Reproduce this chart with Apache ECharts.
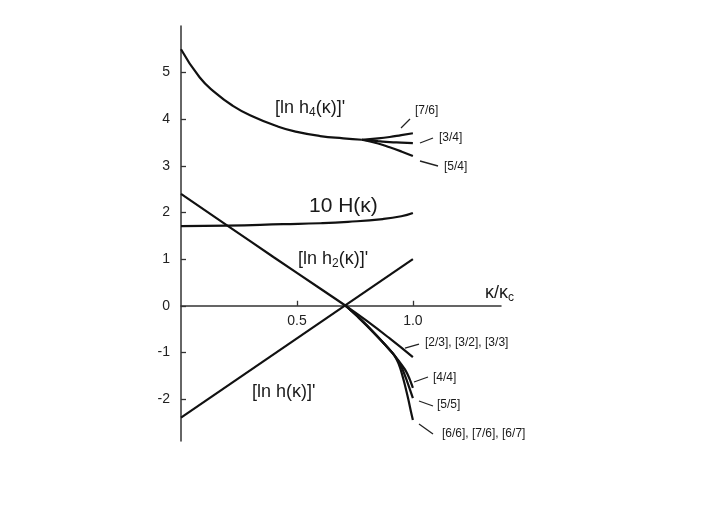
<!DOCTYPE html>
<html>
<head>
<meta charset="utf-8">
<script src="https://cdn.jsdelivr.net/npm/echarts@6/dist/echarts.min.js"></script>
<style>
  html, body { margin: 0; padding: 0; background: #fff; }
  #main { width: 706px; height: 528px; }
</style>
</head>
<body>
<div id="main"></div>
<script>
// values, [κ/κc, value]
const lnH = [[0, -2.4], [1.0, 1.0]];
const lnH2 = [[0, 2.4], [0.2, 1.72], [0.4, 1.04], [0.6, 0.37], [0.71, 0], [0.8, -0.32], [0.9, -0.7], [1.0, -1.1]];
const tenH = [[0, 1.71], [0.2, 1.72], [0.44, 1.75], [0.6, 1.77], [0.72, 1.8], [0.87, 1.86], [0.95, 1.92], [1.0, 1.99]];
const lnH4 = [[0, 5.5], [0.08, 4.9], [0.15, 4.56], [0.22, 4.3], [0.3, 4.08], [0.42, 3.84], [0.5, 3.73], [0.6, 3.64], [0.7, 3.59], [0.78, 3.56]];
const h4b76 = [[0.78, 3.56], [0.85, 3.59], [0.9, 3.62], [0.95, 3.66], [1.0, 3.7]];
const h4b34 = [[0.78, 3.56], [0.85, 3.53], [0.9, 3.51], [0.95, 3.5], [1.0, 3.49]];
const h4b54 = [[0.78, 3.56], [0.85, 3.48], [0.9, 3.4], [0.95, 3.31], [1.0, 3.21]];
// lower Padé curves share the stem from the crossing point
const bStem = [[0.71, 0], [0.77, -0.27], [0.84, -0.62], [0.91, -1.0]];
const b44 = [[0.94, -1.19], [0.97, -1.4], [0.985, -1.56], [1.0, -1.76]];
const b55 = [[0.935, -1.17], [0.955, -1.36], [0.975, -1.62], [1.0, -1.98]];
const b66 = [[0.93, -1.15], [0.945, -1.33], [0.962, -1.63], [0.98, -2.0], [0.993, -2.3], [1.0, -2.45]];
const yTicks = [-2, -1, 0, 1, 2, 3, 4, 5];
const xTicks = [0.5, 1.0];

const chart = echarts.init(document.getElementById('main'));
const font = '"Liberation Sans", Arial, sans-serif';

// grid: 26px top, 87px bottom, y from -2.9 to 6
const plotH = 528 - 26 - 87;
const zeroShift = plotH * 2.9 / 8.9;

function curve(data, smooth) {
    return {
        type: 'line',
        data: data,
        smooth: smooth === undefined ? true : smooth,
        symbol: 'none',
        lineStyle: { color: '#111', width: 2.2 },
        silent: true
    };
}

function label(text, x, y, size) {
    return {
        type: 'text',
        x: x,
        y: y,
        style: {
            text: text,
            fontFamily: font,
            fontSize: size,
            fill: '#1a1a1a',
            align: 'left',
            verticalAlign: 'middle',
            rich: {
                sub: { fontFamily: font, fontSize: Math.round(size * 0.68), padding: [Math.round(size * 0.5), 0, 0, 0], fill: '#1a1a1a' }
            }
        }
    };
}

function leader(x1, y1, x2, y2) {
    return {
        type: 'line',
        shape: { x1: x1, y1: y1, x2: x2, y2: y2 },
        style: { stroke: '#222', lineWidth: 1.3 }
    };
}

const option = {
    animation: false,
    grid: { left: 181, right: 205, top: 26, bottom: 87 },
    xAxis: {
        type: 'value',
        min: 0,
        max: 1.38,
        offset: -zeroShift,
        axisLine: { onZero: false, lineStyle: { color: '#333', width: 1.5 } },
        axisTick: { inside: true, length: 5, customValues: xTicks, lineStyle: { color: '#333', width: 1.3 } },
        axisLabel: {
            customValues: xTicks,
            formatter: v => v.toFixed(1),
            fontFamily: font, fontSize: 14, color: '#222', margin: 8
        },
        splitLine: { show: false }
    },
    yAxis: {
        type: 'value',
        min: -2.9,
        max: 6,
        axisLine: { show: true, onZero: false, lineStyle: { color: '#333', width: 1.5 } },
        axisTick: { show: true, inside: true, length: 5, customValues: yTicks, lineStyle: { color: '#333', width: 1.3 } },
        axisLabel: { customValues: yTicks, fontFamily: font, fontSize: 14, color: '#222', margin: 11 },
        splitLine: { show: false }
    },
    series: [
        curve(lnH), curve(lnH2), curve(tenH), curve(lnH4),
        curve(h4b76), curve(h4b34), curve(h4b54),
        curve(bStem.concat(b44), 0.3),
        curve(bStem.concat(b55), 0.3),
        curve(bStem.concat(b66), 0.3)
    ],
    graphic: [
        label("[ln h{sub|4}(κ)]'", 275, 108, 18),
        label('10 H(κ)', 309, 206, 21),
        label("[ln h{sub|2}(κ)]'", 298, 259, 18),
        label("[ln h(κ)]'", 252, 392, 18),
        label('κ/κ{sub|c}', 485, 293, 18),
        label('[7/6]', 415, 111, 12),
        label('[3/4]', 439, 138, 12),
        label('[5/4]', 444, 167, 12),
        label('[2/3], [3/2], [3/3]', 425, 343, 12),
        label('[4/4]', 433, 378, 12),
        label('[5/5]', 437, 405, 12),
        label('[6/6], [7/6], [6/7]', 442, 434, 12),
        leader(401, 128, 410, 119),
        leader(420, 143, 433, 138),
        leader(420, 161, 438, 166),
        leader(405, 348, 419, 344),
        leader(414, 382, 428, 377),
        leader(419, 401, 433, 406),
        leader(419, 424, 433, 434)
    ]
};
chart.setOption(option);
</script>
</body>
</html>
